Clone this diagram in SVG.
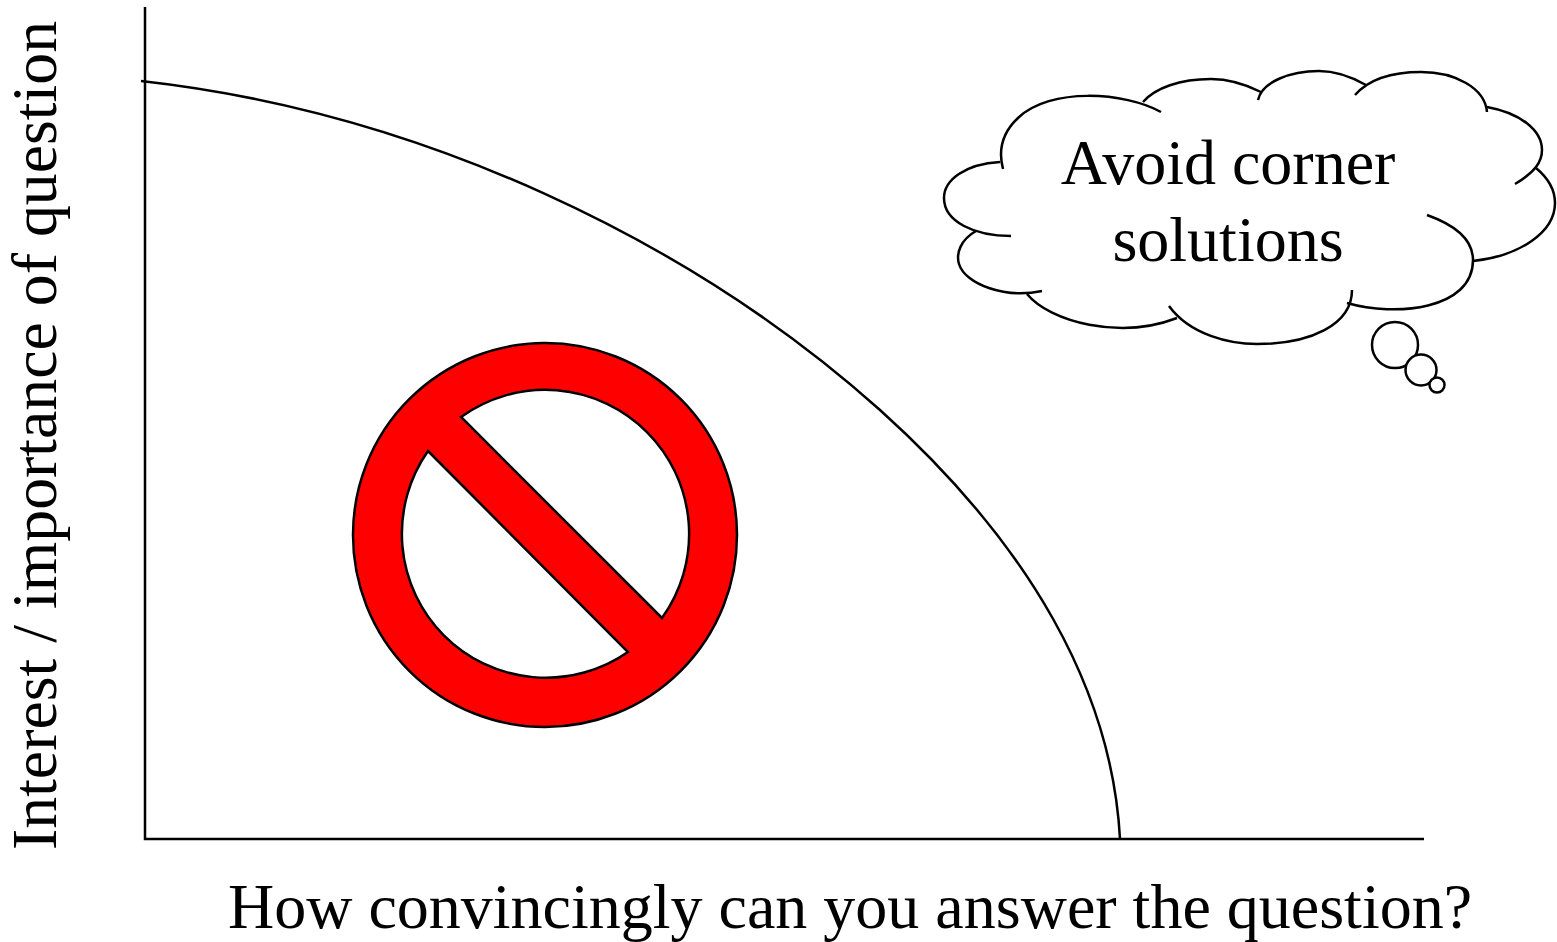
<svg xmlns="http://www.w3.org/2000/svg" width="1557" height="942" viewBox="0 0 1557 942">
<style>
.l{fill:none;stroke:#000;stroke-width:2.500}
.t{font-family:"Liberation Serif","Times New Roman",serif;fill:#000}
.b{fill:#fff;stroke:#000;stroke-width:2.500}
</style>
<rect width="1557" height="942" fill="#fff"/>
<g id="axes">
<path class="l" d="M145 7V839H1424"/>
<path id="curve" class="l" d="M141 81C420 112 690 240 880 410C1030 545 1112 690 1120 839"/>
</g>
<g id="no-sign">
<path fill="#f00" stroke="#000" stroke-width="2.500" fill-rule="evenodd" d="M545 343A192 192 0 1 0 545 727A192 192 0 1 0 545 343ZM461 417A144 144 0 0 1 662 618ZM428 451L628 652A144 144 0 0 1 428 451Z"/>
</g>
<g id="cloud">
<path class="l" d="M1161 112C1125 92 1050 87 1018 118C1002 133 998 150 1003 169"/>
<path class="l" d="M1000 162C965 164 944 180 944 198C944 222 975 236 1011 236"/>
<path class="l" d="M976 231C960 240 956 254 959 264C965 284 1005 299 1042 291"/>
<path class="l" d="M1027 294C1050 322 1120 340 1177 318"/>
<path class="l" d="M1169 306C1190 335 1230 344 1257 344C1310 344 1352 325 1352 290"/>
<path class="l" d="M1347 303C1395 317 1473 310 1473 260C1473 240 1455 225 1427 215"/>
<path class="l" d="M1473 261C1520 256 1555 232 1555 203C1555 190 1548 178 1536 168"/>
<path class="l" d="M1515 184C1535 172 1542 162 1542 150C1542 130 1520 113 1487 107"/>
<path class="l" d="M1487 112C1485 88 1455 72 1421 72C1395 72 1370 78 1355 95"/>
<path class="l" d="M1366 85C1350 76 1335 71 1319 71C1290 71 1262 82 1258 100"/>
<path class="l" d="M1261 92C1245 84 1230 79 1211 79C1180 79 1155 88 1143 102"/>
</g>
<g id="bubbles">
<circle class="b" cx="1395" cy="345" r="23"/>
<circle class="b" cx="1421" cy="370" r="15.500"/>
<circle class="b" cx="1437" cy="385" r="7.500"/>
</g>
<g id="labels">
<text class="t" font-size="64" x="1228" y="184" text-anchor="middle">Avoid corner</text>
<text class="t" font-size="64" x="1228" y="261" text-anchor="middle">solutions</text>
<text class="t" font-size="64" x="850" y="928" text-anchor="middle">How convincingly can you answer the question?</text>
<text class="t" font-size="63.800" transform="translate(56 850) rotate(-90)">Interest / importance of question</text>
</g>
</svg>
